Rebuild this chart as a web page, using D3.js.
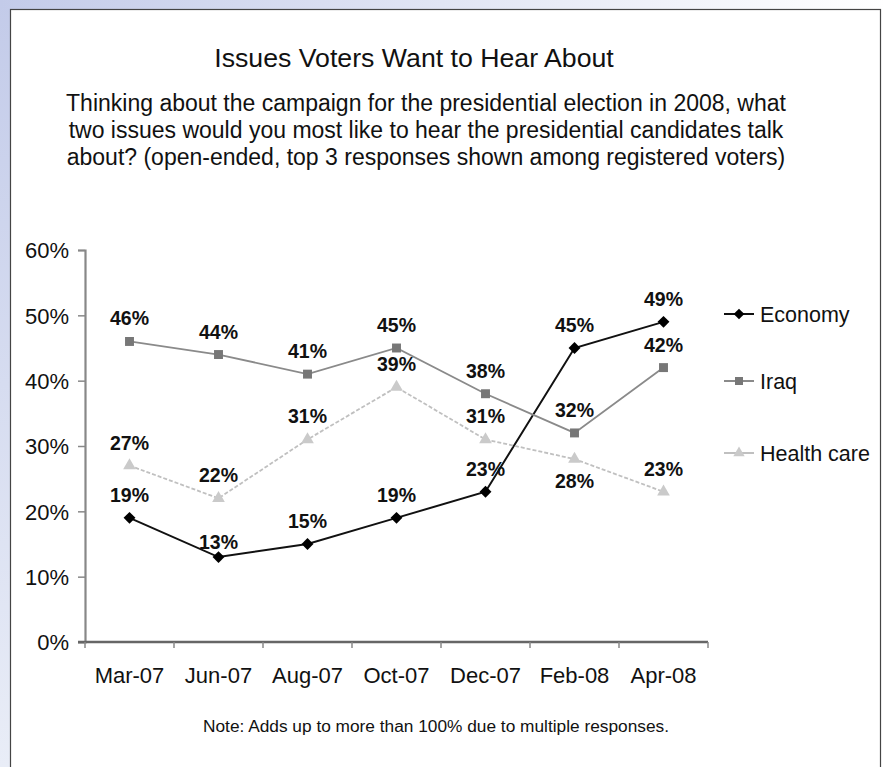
<!DOCTYPE html>
<html>
<head>
<meta charset="utf-8">
<script src="https://cdn.jsdelivr.net/npm/d3@7"></script>
<style>
  html, body { margin: 0; padding: 0; background: #fff; }
  svg { display: block; font-family: "Liberation Sans", Arial, sans-serif; }
</style>
</head>
<body>
<svg id="chart" width="885" height="767"></svg>
<script>
// survey waves
var months = ["Mar-07", "Jun-07", "Aug-07", "Oct-07", "Dec-07", "Feb-08", "Apr-08"];

// percent naming each issue
var economy = [19, 13, 15, 19, 23, 45, 49];
var iraq = [46, 44, 41, 45, 38, 32, 42];
var healthCare = [27, 22, 31, 39, 31, 28, 23];

var yTicks = [0, 10, 20, 30, 40, 50, 60];

// diamond = square turned 45 degrees
var diamond = d3.symbolDiamond2 || d3.symbolDiamond;

var series = [
    {name: "Economy", values: economy, line: "#111", mark: "#000", shape: diamond, size: 90, dash: null},
    {name: "Iraq", values: iraq, line: "#8a8a8a", mark: "#777", shape: d3.symbolSquare, size: 80, dash: null},
    {name: "Health care", values: healthCare, line: "#c0c0c0", mark: "#cacaca", shape: d3.symbolTriangle, size: 70, dash: "4,2"}
];

// labels that sit below their point instead of above
var below = {"Health care_Feb-08": true};

var svg = d3.select("#chart");
var W = 885, H = 767;

// bluish frame behind the white panel
var defs = svg.append("defs");
var gLeft = defs.append("linearGradient").attr("id", "gl").attr("x1", 0).attr("y1", 0).attr("x2", 0).attr("y2", 1);
gLeft.append("stop").attr("offset", "0%").attr("stop-color", "#c3cbe9");
gLeft.append("stop").attr("offset", "100%").attr("stop-color", "#e9edf7");
var gTop = defs.append("linearGradient").attr("id", "gt").attr("x1", 0).attr("y1", 0).attr("x2", 1).attr("y2", 0);
gTop.append("stop").attr("offset", "0%").attr("stop-color", "#c3cbe9");
gTop.append("stop").attr("offset", "100%").attr("stop-color", "#ffffff");

svg.append("rect").attr("width", W).attr("height", H).attr("fill", "#fff");
svg.append("rect").attr("x", 0).attr("y", 0).attr("width", 11).attr("height", H).attr("fill", "url(#gl)");
svg.append("rect").attr("x", 0).attr("y", 0).attr("width", W).attr("height", 9).attr("fill", "url(#gt)");
svg.append("rect").attr("x", 10.5).attr("y", 9.5).attr("width", 870).attr("height", 770)
    .attr("fill", "#fff").attr("stroke", "#444").attr("stroke-width", 1.2);

// titles
svg.append("text").attr("x", 414).attr("y", 67).attr("text-anchor", "middle")
    .attr("font-size", 26.7).attr("fill", "#111").text("Issues Voters Want to Hear About");

var subtitle = [
    "Thinking about the campaign for the presidential election in 2008, what",
    "two issues would you most like to hear the presidential candidates talk",
    "about? (open-ended, top 3 responses shown among registered voters)"
];
svg.append("g").selectAll("text").data(subtitle).enter().append("text")
    .attr("x", 426).attr("y", function (d, i) { return 111 + i * 27; })
    .attr("text-anchor", "middle").attr("font-size", 23).attr("fill", "#111")
    .text(function (d) { return d; });

// scales
var x = d3.scaleBand().domain(months).range([85, 708]);
var y = d3.scaleLinear().domain([0, 60]).range([642, 250]);
var cx = function (m) { return x(m) + x.bandwidth() / 2; };

// y axis
var yAxis = svg.append("g").attr("transform", "translate(85,0)")
    .call(d3.axisLeft(y).tickValues(yTicks).tickSize(7).tickPadding(9)
        .tickFormat(function (d) { return d + "%"; }));
yAxis.select(".domain").attr("stroke", "#888").attr("stroke-width", 2.2);
yAxis.selectAll(".tick line").attr("stroke", "#888").attr("stroke-width", 1.5);
yAxis.selectAll(".tick text").attr("font-size", 22).attr("fill", "#111")
    .attr("font-family", "Liberation Sans, Arial, sans-serif").attr("dy", "0.36em");

// x axis, ticks between categories
var xAxis = svg.append("g").attr("transform", "translate(0,642)");
xAxis.append("line").attr("x1", 78).attr("x2", 708).attr("stroke", "#666").attr("stroke-width", 2.4);
var bounds = months.map(function (m) { return x(m); }).concat([x.range()[1]]);
xAxis.selectAll("line.tk").data(bounds).enter().append("line").attr("class", "tk")
    .attr("x1", function (d) { return d; }).attr("x2", function (d) { return d; })
    .attr("y1", 0).attr("y2", 6).attr("stroke", "#888").attr("stroke-width", 1.5);
xAxis.selectAll("text").data(months).enter().append("text")
    .attr("x", function (d) { return cx(d); }).attr("y", 41)
    .attr("text-anchor", "middle").attr("font-size", 22).attr("fill", "#111")
    .text(function (d) { return d; });

// lines, markers, labels
var line = d3.line()
    .x(function (d, i) { return cx(months[i]); })
    .y(function (d) { return y(d); });

series.forEach(function (s) {
    var g = svg.append("g");
    g.append("path").attr("d", line(s.values)).attr("fill", "none")
        .attr("stroke", s.line).attr("stroke-width", s.name == "Economy" ? 2 : 1.8)
        .attr("stroke-dasharray", s.dash);
    g.selectAll("path.mk").data(s.values).enter().append("path").attr("class", "mk")
        .attr("d", d3.symbol().type(s.shape).size(s.size))
        .attr("transform", function (d, i) { return "translate(" + cx(months[i]) + "," + y(d) + ")"; })
        .attr("fill", s.mark);
    g.selectAll("text").data(s.values).enter().append("text")
        .attr("x", function (d, i) { return cx(months[i]); })
        .attr("y", function (d, i) {
            var key = s.name + "_" + months[i];
            if (below[key]) return y(d) + 29;
            if (s.name == "Economy" && months[i] == "Jun-07") return y(d) - 8;
            return y(d) - 16;
        })
        .attr("text-anchor", "middle").attr("font-size", 19.5).attr("font-weight", "bold")
        .attr("fill", "#111")
        .text(function (d) { return d + "%"; });
});

// legend
var legendY = [314, 381, 453];
var legend = svg.append("g").selectAll("g").data(series).enter().append("g")
    .attr("transform", function (d, i) { return "translate(724," + legendY[i] + ")"; });
legend.append("line").attr("x1", 0).attr("x2", 30)
    .attr("stroke", function (d) { return d.line; }).attr("stroke-width", 2);
legend.append("path")
    .attr("d", function (d) { return d3.symbol().type(d.shape).size(d.size * 0.8)(); })
    .attr("transform", "translate(15,0)")
    .attr("fill", function (d) { return d.mark; });
legend.append("text").attr("x", 36).attr("dy", "0.36em")
    .attr("font-size", 21.5).attr("fill", "#111")
    .text(function (d) { return d.name; });

// footnote
svg.append("text").attr("x", 436).attr("y", 732).attr("text-anchor", "middle")
    .attr("font-size", 17.3).attr("fill", "#111")
    .text("Note: Adds up to more than 100% due to multiple responses.");
</script>
</body>
</html>
